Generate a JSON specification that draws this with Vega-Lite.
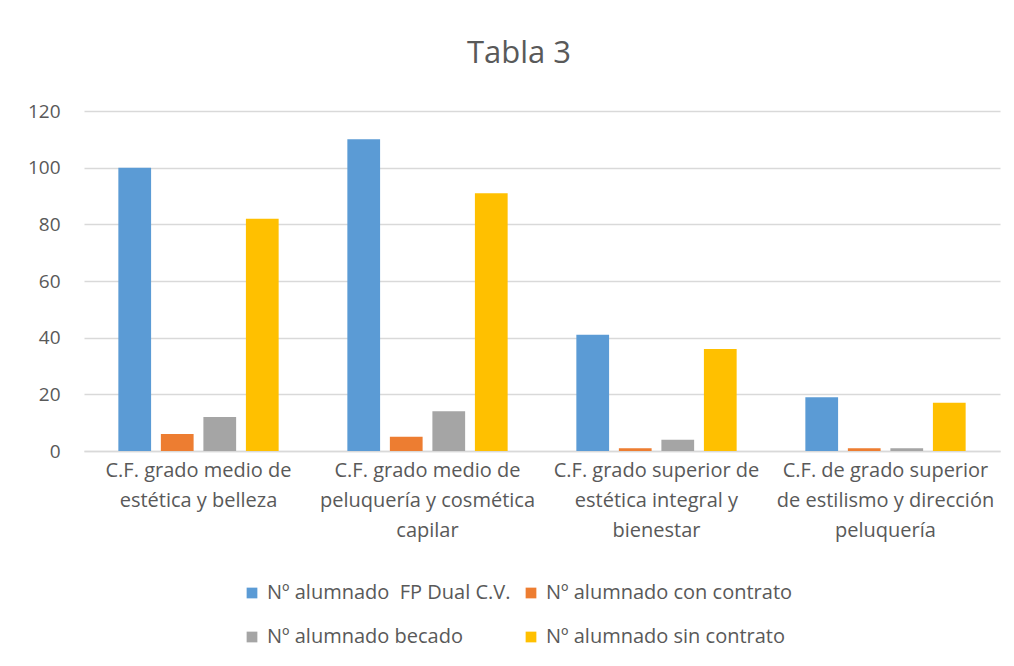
{
  "$schema": "https://vega.github.io/schema/vega-lite/v6.json",
  "width": 916,
  "height": 340,
  "autosize": {"type": "none"},
  "padding": {"left": 84, "top": 111, "right": 14, "bottom": 215},
  "background": "white",
  "title": {"text": "Tabla 3", "fontSize": 31, "font": "Open Sans", "fontWeight": "normal", "color": "#595959", "offset": 32, "dx": -23},
  "data": {"values": [
    {"ciclo": "C.F. grado medio de|estética y belleza", "serie": "Nº alumnado \u00a0FP Dual C.V.", "valor": 100},
    {"ciclo": "C.F. grado medio de|estética y belleza", "serie": "Nº alumnado con contrato", "valor": 6},
    {"ciclo": "C.F. grado medio de|estética y belleza", "serie": "Nº alumnado becado", "valor": 12},
    {"ciclo": "C.F. grado medio de|estética y belleza", "serie": "Nº alumnado sin contrato", "valor": 82},
    {"ciclo": "C.F. grado medio de|peluquería y cosmética|capilar", "serie": "Nº alumnado \u00a0FP Dual C.V.", "valor": 110},
    {"ciclo": "C.F. grado medio de|peluquería y cosmética|capilar", "serie": "Nº alumnado con contrato", "valor": 5},
    {"ciclo": "C.F. grado medio de|peluquería y cosmética|capilar", "serie": "Nº alumnado becado", "valor": 14},
    {"ciclo": "C.F. grado medio de|peluquería y cosmética|capilar", "serie": "Nº alumnado sin contrato", "valor": 91},
    {"ciclo": "C.F. grado superior de|estética integral y|bienestar", "serie": "Nº alumnado \u00a0FP Dual C.V.", "valor": 41},
    {"ciclo": "C.F. grado superior de|estética integral y|bienestar", "serie": "Nº alumnado con contrato", "valor": 1},
    {"ciclo": "C.F. grado superior de|estética integral y|bienestar", "serie": "Nº alumnado becado", "valor": 4},
    {"ciclo": "C.F. grado superior de|estética integral y|bienestar", "serie": "Nº alumnado sin contrato", "valor": 36},
    {"ciclo": "C.F. de grado superior|de estilismo y dirección|peluquería", "serie": "Nº alumnado \u00a0FP Dual C.V.", "valor": 19},
    {"ciclo": "C.F. de grado superior|de estilismo y dirección|peluquería", "serie": "Nº alumnado con contrato", "valor": 1},
    {"ciclo": "C.F. de grado superior|de estilismo y dirección|peluquería", "serie": "Nº alumnado becado", "valor": 1},
    {"ciclo": "C.F. de grado superior|de estilismo y dirección|peluquería", "serie": "Nº alumnado sin contrato", "valor": 17}
  ]},
  "mark": {"type": "bar"},
  "encoding": {
    "x": {
      "field": "ciclo", "type": "nominal", "sort": null,
      "scale": {"paddingInner": 0.3, "paddingOuter": 0.15},
      "axis": {
        "title": null, "labelAngle": 0, "labelExpr": "split(datum.value, '|')",
        "labelFont": "Open Sans", "labelFontSize": 20, "labelColor": "#595959",
        "labelLineHeight": 30, "labelPadding": 9, "ticks": false,
        "domainColor": "#d9d9d9", "domainWidth": 1.5, "labelLimit": 0
      }
    },
    "xOffset": {
      "field": "serie", "type": "nominal", "sort": null,
      "scale": {"paddingInner": 0.23, "paddingOuter": 0}
    },
    "y": {
      "field": "valor", "type": "quantitative",
      "scale": {"domain": [0, 120]},
      "axis": {
        "title": null, "values": [0, 20, 40, 60, 80, 100, 120],
        "domain": false, "ticks": false, "labelPadding": 24,
        "labelFont": "Open Sans", "labelFontSize": 19, "labelColor": "#595959",
        "gridColor": "#d9d9d9", "gridWidth": 1.5
      }
    },
    "color": {
      "field": "serie", "type": "nominal", "sort": null,
      "scale": {
        "domain": ["Nº alumnado \u00a0FP Dual C.V.", "Nº alumnado con contrato", "Nº alumnado becado", "Nº alumnado sin contrato"],
        "range": ["#5B9BD5", "#ED7D31", "#A5A5A5", "#FFC000"]
      },
      "legend": {
        "title": null, "orient": "none", "legendX": 158, "legendY": 472, "direction": "horizontal", "columns": 2,
        "symbolType": "square", "symbolSize": 115, "symbolStrokeWidth": 0,
        "labelFont": "Open Sans", "labelFontSize": 20, "labelColor": "#595959",
        "labelOffset": 5, "rowPadding": 24, "columnPadding": 10, "labelLimit": 0
      }
    }
  },
  "config": {"view": {"stroke": null}}
}
